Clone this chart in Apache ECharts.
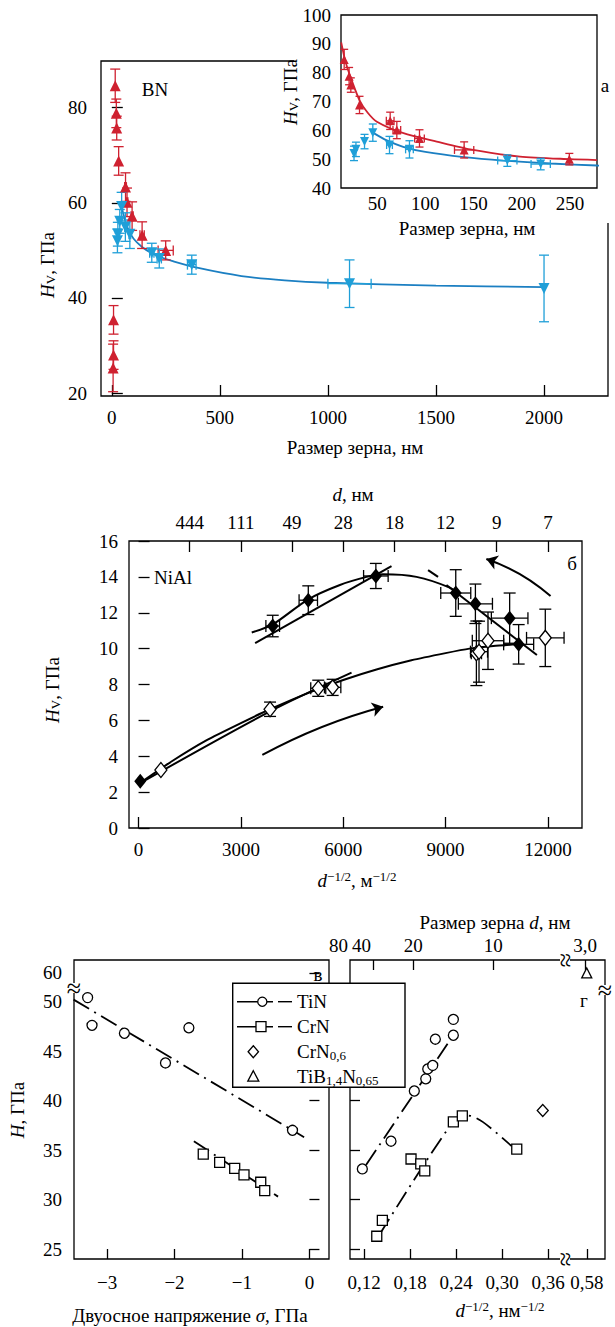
<!DOCTYPE html>
<html><head><meta charset="utf-8">
<script src="https://cdn.jsdelivr.net/npm/echarts@6/dist/echarts.min.js"></script>
<style>html,body{margin:0;padding:0;background:#fff}#c{width:615px;height:1327px}</style>
</head><body><div id="c"></div>
<script>
// ===== Panel а: BN (main + inset) =====
const redSize        = [8, 8, 6, 15.8, 20.9, 22.7, 31.7, 63.5, 70.4, 93.9, 140.2, 249.3];
const redHv          = [35.4, 28.0, 25.3, 84.6, 78.8, 75.7, 68.8, 63.3, 60.1, 57.2, 53.2, 50.0];
const redHvErr       = [3, 3, 5, 3.5, 3, 2.5, 3, 3, 3, 3, 2.8, 2];
const redSizeErrMain = [0, 0, 0, 0, 0, 0, 0, 4, 4, 5, 10, 35];
const redSizeErrIns  = [0, 0, 0, 0, 0, 0, 0, 4, 4, 5, 10, 0];
const blueSize    = [26, 28, 36.9, 45.5, 62.8, 83.5, 185, 219.6, 370, 1100, 2000];
const blueHv      = [52.0, 53.4, 56.1, 59.2, 54.9, 53.4, 49.5, 48.3, 47.0, 43.0, 42.0];
const blueHvErr   = [2.5, 2.5, 2.5, 3, 3, 3, 2, 2, 2, 5, 7];
const blueSizeErr = [0, 0, 0, 0, 3, 4, 10, 10, 20, 100, 0];
const redFitX  = [12.7, 17, 22, 31.6, 40, 49.7, 77.3, 111.8, 146.4, 198.2, 250, 278];
const redFitY  = [90.5, 84, 78.8, 70.5, 66.2, 63, 59, 56.1, 53.4, 50.9, 50, 49.7];
const blueFitX = [45.5, 60, 77, 100, 140, 181, 230, 278, 400, 600, 800, 1000, 1500, 2000];
const blueFitY = [59.2, 56.5, 54.3, 52.5, 50.7, 49.5, 48.5, 47.8, 46.3, 44.6, 43.7, 43.2, 42.6, 42.3];
const aMainXTicks = [0, 500, 1000, 1500, 2000];
const aMainYTicks = [20, 40, 60, 80];
const aInsXTicks  = [50, 100, 150, 200, 250];

// ===== Panel б: NiAl =====
const filledX    = [50, 3933, 4976, 6957, 9299, 9875, 10879, 11143];
const filledY    = [2.6, 11.26, 12.7, 14.05, 13.1, 12.5, 11.7, 10.24];
const filledYErr = [0, 0.6, 0.8, 0.7, 1.3, 1.1, 1.4, 1.1];
const filledXErr = [0, 200, 270, 360, 440, 500, 536, 440];
const openX    = [655, 3855, 5268, 5690, 9904, 9981, 10244, 11924];
const openY    = [3.23, 6.62, 7.79, 7.84, 9.74, 9.83, 10.44, 10.6];
const openYErr = [0, 0.4, 0.45, 0.45, 1.8, 1.7, 1.6, 1.6];
const openXErr = [0, 0, 220, 240, 150, 250, 460, 550];
const hpFilledLineX = [3418, 7415],  hpFilledLineY = [10.3, 14.6];
const filledCurveX = [3318, 3933, 4976, 5903, 6684, 7170, 8148, 9122, 9400];
const filledCurveY = [10.9, 11.35, 12.75, 13.55, 14.0, 14.14, 14.0, 13.4, 13.0];
const invDashX = [8488, 8780],  invDashY = [14.38, 14.0];
const invLineX = [9026, 11678], invLineY = [13.55, 9.64];
const openCurveX = [0, 1000, 2000, 3000, 3855, 5000, 6000, 7000, 8000, 9000, 9700, 10400, 11100];
const openCurveY = [2.45, 3.75, 4.9, 5.85, 6.62, 7.55, 8.25, 8.85, 9.35, 9.75, 10.0, 10.15, 10.24];
const hpOpenLineX = [0, 3855, 6244], hpOpenLineY = [2.45, 6.5, 8.66];
const arrowUp   = [[3629, 4.07], [7171, 6.76]];
const arrowBack = [[12078, 12.93], [10196, 15.0]];
const bBottomTicks = [0, 3000, 6000, 9000, 12000];
const bTopTicks    = [1500, 3000, 4500, 6000, 7500, 9000, 10500, 12000];
const bTopLabels   = ['444', '111', '49', '28', '18', '12', '9', '7'];

// ===== Panel в: H vs biaxial stress =====
const tinStress = [-3.288, -3.223, -2.743, -2.134, -1.787, -0.251];
const tinHs     = [50.4, 47.6, 46.8, 43.8, 47.35, 37.0];
const crnStress = [-1.574, -1.331, -1.108, -0.970, -0.722, -0.663];
const crnHs     = [34.6, 33.75, 33.15, 32.5, 31.75, 30.9];
const tinFitSX = [-3.496, -0.079], tinFitSY = [50.2, 36.3];
const crnFitSX = [-1.713, -0.465], crnFitSY = [35.9, 30.3];
const vXTicks = [-3, -2, -1, 0];
const hTicks  = [25, 30, 35, 40, 45, 50, 60];

// ===== Panel г: H vs d^-1/2 =====
const tinD  = [0.1178, 0.1552, 0.1856, 0.2005, 0.2031, 0.2096, 0.213, 0.2365, 0.2365];
const tinHd = [33.1, 35.9, 40.97, 42.2, 43.2, 43.55, 46.2, 46.6, 48.2];
const crnD  = [0.1366, 0.1439, 0.1813, 0.194, 0.1992, 0.2365, 0.2482, 0.3192];
const crnHd = [26.3, 27.9, 34.1, 33.6, 32.9, 37.85, 38.45, 35.1];
const crn06D = [0.3531], crn06H = [39.0];
const tibD = [0.58], tibH = [60];
const tinFitDX = [0.1226, 0.2387], tinFitDY = [33.5, 46.85];
const crnFitDX = [0.1405, 0.2365, 0.255, 0.2748, 0.3126];
const crnFitDY = [26.5, 37.9, 38.5, 37.85, 35.4];
const gBottomVals   = [0.12, 0.18, 0.24, 0.30, 0.36, 0.58];
const gBottomLabels = ['0,12', '0,18', '0,24', '0,30', '0,36', '0,58'];
const gTopTickPos   = [0.1322, 0.1843, 0.2887, 0.4083];
const gTopLabelPos  = [0.1017, 0.1843, 0.2887, 0.4083];
const gTopLabels    = ['80\u200940', '20', '10', '3,0'];
const legendNames = ['TiN', 'CrN', '{n|CrN}{sub|0,6}', '{n|TiB}{sub|1,4}{n|N}{sub|0,65}'];

// broken-axis transforms (axis breaks 50→60 GPa and 0.36→0.58)
const Y_SHIFT = 7.11, X_SHIFT = 0.1695;
const dY = v => v > 55 ? v - Y_SHIFT : v;
const dX = v => v > 0.45 ? v - X_SHIFT : v;

// ===== rendering =====
const F = 'Liberation Serif';
const RED = '#cf2130', BLUE = '#1f9fd8', BLUEL = '#1b7fc2', BLK = '#000';
const R = {
  n:   {fontSize: 19, fontFamily: F, lineHeight: 20, color: BLK},
  i:   {fontSize: 19, fontFamily: F, fontStyle: 'italic', lineHeight: 20, color: BLK},
  sup: {fontSize: 13, fontFamily: F, verticalAlign: 'top', lineHeight: 12, color: BLK},
  sub: {fontSize: 13, fontFamily: F, verticalAlign: 'bottom', lineHeight: 12, color: BLK}
};
const zip = (a, b) => a.map((x, i) => [x, b[i]]);
const near = (arr, v) => arr.findIndex(t => Math.abs(t - v) < 1e-6 * Math.max(1, Math.abs(t)) + 1e-9);

function tk(vals, len) { return {show: true, inside: true, length: len || 11, customValues: vals, lineStyle: {color: BLK, width: 1.3}}; }
function lb(vals, fmt, margin) { return {show: true, customValues: vals, formatter: fmt, margin: margin, fontSize: 19, fontFamily: F, color: BLK}; }
function ax(o) { return Object.assign({type: 'value', axisLine: {show: false}, splitLine: {show: false}, axisTick: {show: false}, axisLabel: {show: false}}, o); }

function errS(xi, yi, xs, ys, exs, eys, color, cap, z) {
  return {type: 'custom', xAxisIndex: xi, yAxisIndex: yi, z: z || 3, silent: true, animation: false,
    data: xs.map((x, i) => [x, ys[i], exs[i], eys[i]]), encode: {x: 0, y: 1},
    renderItem: (params, api) => {
      const x = api.value(0), y = api.value(1), ex = api.value(2), ey = api.value(3);
      const st = {stroke: color, lineWidth: 1.3, fill: 'none'};
      const ch = [];
      const seg = (a, b) => ch.push({type: 'line', shape: {x1: a[0], y1: a[1], x2: b[0], y2: b[1]}, style: st});
      if (ey > 0) { const a = api.coord([x, y - ey]), b = api.coord([x, y + ey]);
        seg(a, b); seg([a[0] - cap, a[1]], [a[0] + cap, a[1]]); seg([b[0] - cap, b[1]], [b[0] + cap, b[1]]); }
      if (ex > 0) { const a = api.coord([x - ex, y]), b = api.coord([x + ex, y]);
        seg(a, b); seg([a[0], a[1] - cap], [a[0], a[1] + cap]); seg([b[0], b[1] - cap], [b[0], b[1] + cap]); }
      return {type: 'group', children: ch};
    }};
}
function lineS(xi, yi, pts, color, width, type, smooth, z) {
  return {type: 'line', xAxisIndex: xi, yAxisIndex: yi, data: pts, showSymbol: false, symbol: 'none',
    smooth: smooth || false, lineStyle: {color: color, width: width, type: type || 'solid', cap: 'butt'},
    z: z || 2, silent: true, animation: false};
}
function scat(xi, yi, pts, sym, size, fill, stroke, rot, z) {
  return {type: 'scatter', xAxisIndex: xi, yAxisIndex: yi, data: pts, symbol: sym, symbolSize: size, symbolRotate: rot || 0,
    itemStyle: {color: fill, borderColor: stroke || fill, borderWidth: stroke ? 1.3 : 0, opacity: 1}, z: z || 4, silent: true, animation: false};
}
const DASHDOT = [18, 6, 2, 6];

// inset subsets (points inside the inset's range)
const insR = redHv.map((v, i) => i).filter(i => redHv[i] >= 40);
const insB = blueSize.map((v, i) => i).filter(i => blueSize[i] <= 278);
const pick = (arr, idx) => idx.map(i => arr[i]);

const grids = [
  {left: 101, top: 61, width: 507, height: 335},
  {left: 341, top: 15, width: 256, height: 173, z: 10, backgroundColor: '#fff'},
  {left: 129, top: 541, width: 453, height: 287},
  {left: 74, top: 960, width: 255, height: 299},
  {left: 350, top: 960, width: 255, height: 299}
].map(g => Object.assign({show: true, borderColor: BLK, borderWidth: 1.3, containLabel: false, outerBoundsMode: 'none'}, g));

const xAxes = [
  ax({gridIndex: 0, min: -50, max: 2296, axisTick: tk(aMainXTicks), axisLabel: lb(aMainXTicks, v => String(v), 12)}),
  ax({gridIndex: 1, min: 12.5, max: 278, z: 10, axisLabel: lb(aInsXTicks, v => String(v), 6)}),
  ax({gridIndex: 2, min: -280, max: 13000, axisTick: tk(bBottomTicks), axisLabel: lb(bBottomTicks, v => String(v), 12)}),
  ax({gridIndex: 2, position: 'top', min: -280, max: 13000, axisTick: tk(bTopTicks),
      axisLabel: lb(bTopTicks, v => bTopLabels[near(bTopTicks, v)] || '', 9)}),
  ax({gridIndex: 3, min: -3.49, max: 0.29, axisTick: tk(vXTicks, 10),
      axisLabel: lb(vXTicks, v => v < 0 ? '\u2212' + Math.abs(v) : String(v), 14)}),
  ax({gridIndex: 4, min: 0.1017, max: 0.4343, axisTick: tk(gBottomVals.map(dX), 10),
      axisLabel: lb(gBottomVals.map(dX), v => gBottomLabels[near(gBottomVals.map(dX), v)] || '', 14)}),
  ax({gridIndex: 4, position: 'top', min: 0.1017, max: 0.4343, axisTick: tk(gTopTickPos, 10),
      axisLabel: lb(gTopLabelPos, v => gTopLabels[near(gTopLabelPos, v)] || '', 5)})
];
const yAxes = [
  ax({gridIndex: 0, min: 19.4, max: 89.8, axisTick: tk(aMainYTicks), axisLabel: lb(aMainYTicks, v => String(v), 14)}),
  ax({gridIndex: 1, min: 40, max: 100, z: 10, axisLabel: lb([40, 50, 60, 70, 80, 90, 100], v => String(v), 10)}),
  ax({gridIndex: 2, min: 0, max: 16, axisTick: tk([0, 2, 4, 6, 8, 10, 12, 14, 16]),
      axisLabel: lb([0, 2, 4, 6, 8, 10, 12, 14, 16], v => String(v), 11)}),
  ax({gridIndex: 3, min: 24, max: 54.2, axisTick: tk(hTicks.map(dY), 10),
      axisLabel: lb(hTicks.map(dY), v => String(hTicks[near(hTicks.map(dY), v)]), 12)}),
  ax({gridIndex: 4, min: 24, max: 54.2, axisTick: tk(hTicks.slice(0, 6), 10)})
];

const series = [
  // а main
  lineS(0, 0, zip(blueFitX, blueFitY), BLUEL, 1.8, 'solid', 0.25),
  errS(0, 0, redSize, redHv, redSizeErrMain, redHvErr, RED, 5),
  errS(0, 0, blueSize, blueHv, blueSizeErr, blueHvErr, BLUE, 5),
  scat(0, 0, zip(redSize, redHv), 'triangle', 11, RED),
  scat(0, 0, zip(blueSize, blueHv), 'triangle', 11, BLUE, null, 180),
  // а inset
  lineS(1, 1, zip(redFitX, redFitY), RED, 1.8, 'solid', 0.25, 11),
  lineS(1, 1, zip(blueFitX, blueFitY), BLUEL, 1.8, 'solid', 0.25, 11),
  errS(1, 1, pick(redSize, insR), pick(redHv, insR), pick(redSizeErrIns, insR), pick(redHvErr, insR), RED, 4, 12),
  errS(1, 1, pick(blueSize, insB), pick(blueHv, insB), pick(blueSizeErr, insB), pick(blueHvErr, insB), BLUE, 4, 12),
  scat(1, 1, zip(pick(redSize, insR), pick(redHv, insR)), 'triangle', 9, RED, null, 0, 13),
  scat(1, 1, zip(pick(blueSize, insB), pick(blueHv, insB)), 'triangle', 9, BLUE, null, 180, 13),
  // б
  lineS(2, 2, zip(hpFilledLineX, hpFilledLineY), BLK, 2),
  lineS(2, 2, zip(filledCurveX, filledCurveY), BLK, 2, 'solid', 0.3),
  lineS(2, 2, zip(invDashX, invDashY), BLK, 2),
  lineS(2, 2, zip(invLineX, invLineY), BLK, 2),
  lineS(2, 2, zip(openCurveX, openCurveY), BLK, 2, 'solid', 0.2),
  lineS(2, 2, zip(hpOpenLineX, hpOpenLineY), BLK, 2, 'solid', 0.3),
  {type: 'lines', coordinateSystem: 'cartesian2d', xAxisIndex: 2, yAxisIndex: 2, symbol: ['none', 'arrow'], symbolSize: 11,
   silent: true, animation: false, z: 3,
   data: [{coords: arrowUp, lineStyle: {curveness: 0.06}}, {coords: arrowBack, lineStyle: {curveness: -0.1}}],
   lineStyle: {color: BLK, width: 2, opacity: 1}},
  errS(2, 2, filledX, filledY, filledXErr, filledYErr, BLK, 6),
  errS(2, 2, openX, openY, openXErr, openYErr, BLK, 6),
  scat(2, 2, zip(filledX, filledY), 'diamond', [12, 15], BLK),
  scat(2, 2, zip(openX, openY), 'diamond', [12, 15], '#fff', BLK),
  // в
  lineS(4, 3, zip(tinFitSX, tinFitSY), BLK, 1.8, DASHDOT),
  lineS(4, 3, zip(crnFitSX, crnFitSY), BLK, 1.8, DASHDOT),
  scat(4, 3, zip(tinStress, tinHs), 'circle', 10, '#fff', BLK),
  scat(4, 3, zip(crnStress, crnHs), 'rect', 10, '#fff', BLK),
  // г
  lineS(5, 4, zip(tinFitDX, tinFitDY), BLK, 1.8, DASHDOT),
  lineS(5, 4, zip(crnFitDX, crnFitDY), BLK, 1.8, DASHDOT, 0.3),
  scat(5, 4, zip(tinD, tinHd), 'circle', 10, '#fff', BLK),
  scat(5, 4, zip(crnD, crnHd), 'rect', 10, '#fff', BLK),
  scat(5, 4, zip(crn06D, crn06H), 'diamond', [11, 12], '#fff', BLK),
  scat(5, 4, zip(tibD.map(dX), tibH.map(dY)), 'triangle', 10, '#fff', BLK)
];

function T(x, y, text, rot, align, z) {
  return {type: 'text', x: x, y: y, rotation: rot || 0, z: z || 50,
    style: {text: text, rich: R, fill: BLK, fontSize: 19, fontFamily: F, align: align || 'center', verticalAlign: 'middle'}};
}
function brk(x, y, rot) {
  return {type: 'group', z: 40, children: [
    {type: 'rect', z: 40, shape: rot ? {x: x - 5, y: y - 6, width: 10, height: 12} : {x: x - 6, y: y - 5, width: 12, height: 10}, style: {fill: '#fff'}},
    {type: 'text', z: 41, x: x, y: y, rotation: rot ? Math.PI / 2 : 0,
     style: {text: '\u2248', fill: BLK, fontSize: 26, fontFamily: F, align: 'center', verticalAlign: 'middle'}}
  ]};
}
const LS = {stroke: BLK, lineWidth: 1.4};
const legendRows = [1001.7, 1026.7, 1051.7, 1076.7];
const graphic = [
  // white cover behind the inset
  {type: 'rect', z: 5, shape: {x: 294, y: 0, width: 321, height: 223}, style: {fill: '#fff'}},
  // panel а texts
  T(47, 265, '{i|H}{sub|V}{n|, ГПа}', Math.PI / 2),
  T(355, 447, '{n|Размер зерна, нм}'),
  T(290, 92, '{i|H}{sub|V}{n|, ГПа}', Math.PI / 2),
  T(467, 228, '{n|Размер зерна, нм}'),
  T(155, 89, '{n|BN}'),
  T(605, 85, '{n|а}'),
  // panel б texts
  T(353, 494, '{i|d}{n|, нм}'),
  T(52, 690, '{i|H}{sub|V}{n|, ГПа}', Math.PI / 2),
  T(357, 880, '{i|d}{sup|\u22121/2}{n|, м}{sup|\u22121/2}'),
  T(173, 577, '{n|NiAl}'),
  T(572, 563, '{n|б}'),
  // panels в, г texts
  T(17, 1110, '{i|H}{n|, ГПа}', Math.PI / 2),
  T(190, 1315, '{n|Двуосное напряжение }{i|σ}{n|, ГПа}'),
  T(495, 922, '{n|Размер зерна }{i|d}{n|, нм}'),
  T(500, 1310, '{i|d}{sup|\u22121/2}{n|, нм}{sup|\u22121/2}'),
  T(318, 974, '{n|в}'),
  T(584, 1000, '{n|г}'),
  // axis breaks
  brk(74, 988, false), brk(605, 990, false), brk(565, 960, true), brk(565, 1259, true),
  // legend
  {type: 'group', z: 60, children: [
    {type: 'rect', z: 60, shape: {x: 232.7, y: 983.3, width: 172.3, height: 104}, style: {fill: '#fff', stroke: BLK, lineWidth: 1.4}},
    {type: 'line', z: 61, shape: {x1: 237, y1: legendRows[0], x2: 273, y2: legendRows[0]}, style: LS},
    {type: 'line', z: 61, shape: {x1: 278, y1: legendRows[0], x2: 292, y2: legendRows[0]}, style: LS},
    {type: 'circle', z: 62, shape: {cx: 262.3, cy: legendRows[0], r: 4.6}, style: {fill: '#fff', stroke: BLK, lineWidth: 1.3}},
    {type: 'line', z: 61, shape: {x1: 237, y1: legendRows[1], x2: 273, y2: legendRows[1]}, style: LS},
    {type: 'line', z: 61, shape: {x1: 278, y1: legendRows[1], x2: 292, y2: legendRows[1]}, style: LS},
    {type: 'rect', z: 62, shape: {x: 256, y: legendRows[1] - 5, width: 10, height: 10}, style: {fill: '#fff', stroke: BLK, lineWidth: 1.3}},
    {type: 'polygon', z: 62, shape: {points: [[253.3, legendRows[2] - 6], [258.5, legendRows[2]], [253.3, legendRows[2] + 6], [248.1, legendRows[2]]]}, style: {fill: '#fff', stroke: BLK, lineWidth: 1.3}},
    {type: 'polygon', z: 62, shape: {points: [[253.3, legendRows[3] - 6], [258.8, legendRows[3] + 4.5], [247.8, legendRows[3] + 4.5]]}, style: {fill: '#fff', stroke: BLK, lineWidth: 1.3}},
    T(297, legendRows[0], '{n|' + legendNames[0] + '}', 0, 'left', 63),
    T(297, legendRows[1], '{n|' + legendNames[1] + '}', 0, 'left', 63),
    T(297, legendRows[2], legendNames[2], 0, 'left', 63),
    T(297, legendRows[3], legendNames[3], 0, 'left', 63)
  ]}
];

const chart = echarts.init(document.getElementById('c'), null, {renderer: 'svg', width: 615, height: 1327});
chart.setOption({animation: false, backgroundColor: '#fff', grid: grids, xAxis: xAxes, yAxis: yAxes, series: series, graphic: graphic});
</script></body></html>
